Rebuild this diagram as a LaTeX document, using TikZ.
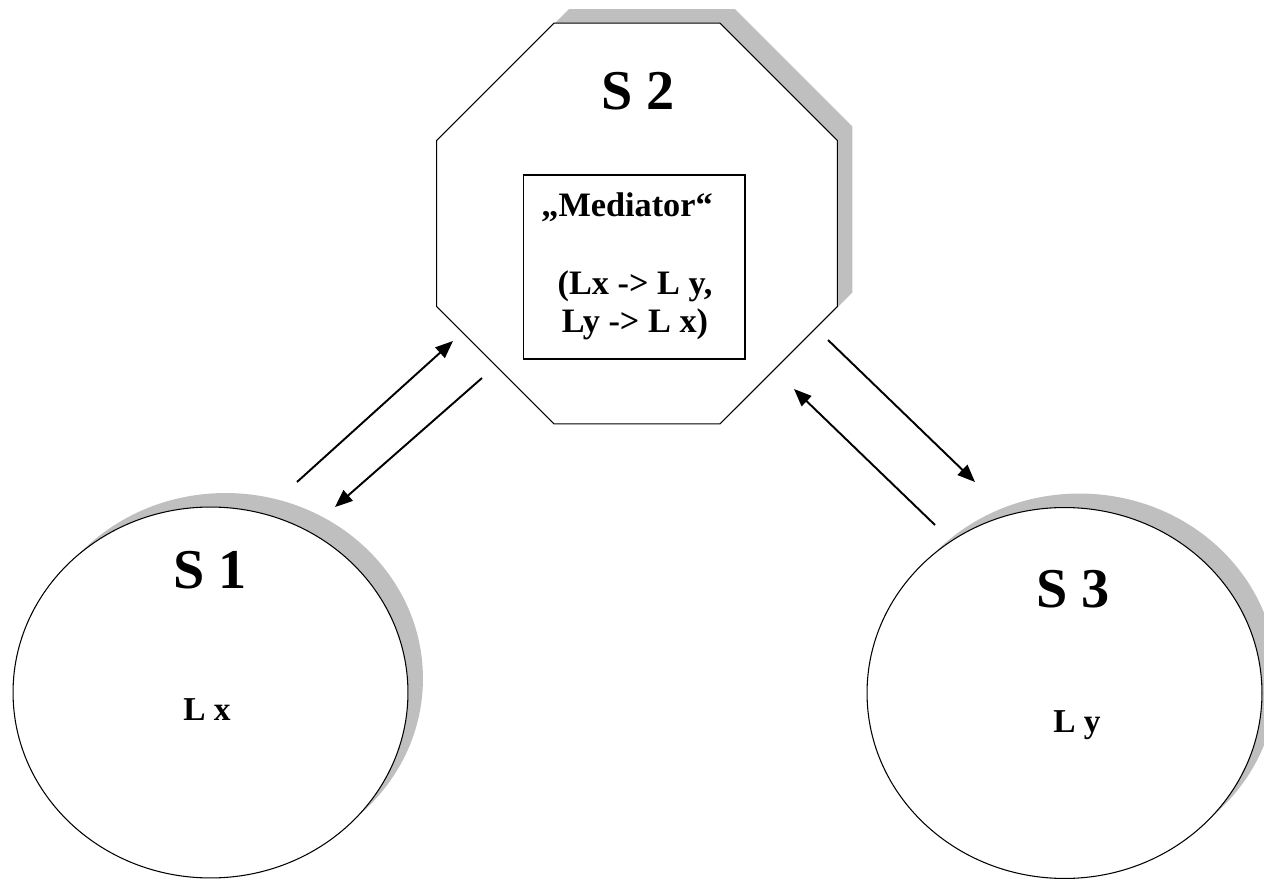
\documentclass[tikz,border=0pt]{standalone}
\usepackage{fontspec}
\setmainfont{Liberation Serif}
\usetikzlibrary{arrows.meta, shapes.geometric, shadows}

\begin{document}
\begin{tikzpicture}[x=0.02cm, y=-0.02cm,
	sys/.style={draw, fill=white, line width=0.6pt, inner sep=0pt, drop shadow={shadow xshift=0.3cm, shadow yshift=0.28cm, fill=black!25, opacity=1}},
	title/.style={font=\bfseries\fontsize{32}{38}\selectfont, anchor=base, inner sep=0pt},
	lang/.style={font=\bfseries\fontsize{19}{23}\selectfont, anchor=base, inner sep=0pt},
	rule/.style={font=\bfseries\fontsize{19.5}{23}\selectfont, anchor=base, inner sep=0pt},
	flow/.style={->, line width=1.1pt},
	>={Triangle[length=10pt, width=8pt]}]
	\useasboundingbox (0,0) rectangle (1264,881);
	% the three systems
	\node[sys, regular polygon, regular polygon sides=8, minimum size=8.68cm] (s2) at (637,223.5) {};
	\node[sys, ellipse, minimum width=7.9cm, minimum height=7.42cm] (s1) at (210.5,692.5) {};
	\node[sys, ellipse, minimum width=7.9cm, minimum height=7.42cm] (s3) at (1064.5,693) {};
	\node[draw, line width=0.6pt, minimum width=4.44cm, minimum height=3.68cm] (med) at (634,267) {};
	% labels
	\node[title] (s2name) at (638,110) {S 2};
	\node[title] (s1name) at (210,588) {S 1};
	\node[title] (s3name) at (1073,607) {S 3};
	\node[lang] (lx) at (207,720) {L x};
	\node[lang] (ly) at (1077,732) {L y};
	\node[rule] (medname) at (627,217) {„Mediator“};
	\node[rule] (rule1) at (635,295) {(Lx -> L y,};
	\node[rule] (rule2) at (635,333) {Ly -> L x)};
	% message flows
	\coordinate (s1out) at (297,482); \coordinate (s2in1) at (453,341);
	\coordinate (s2out1) at (482,378); \coordinate (s1in) at (335,507);
	\coordinate (s2out3) at (828,340); \coordinate (s3in) at (975,482);
	\coordinate (s3out) at (935,525); \coordinate (s2in3) at (794,389);
	\draw[flow] (s1out) -- (s2in1);
	\draw[flow] (s2out1) -- (s1in);
	\draw[flow] (s2out3) -- (s3in);
	\draw[flow] (s3out) -- (s2in3);
\end{tikzpicture}
\end{document}
